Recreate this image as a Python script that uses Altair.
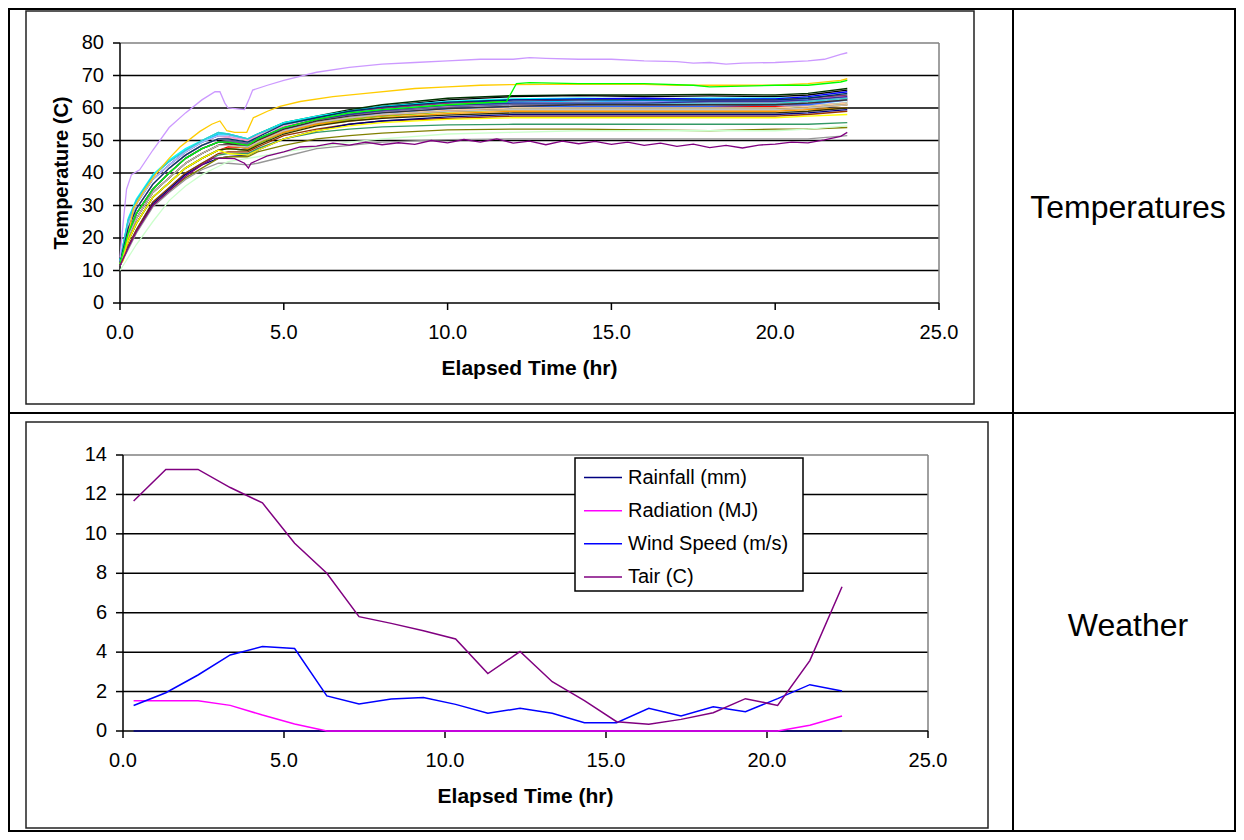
import altair as alt
import pandas as pd

FONT = "Liberation Sans"
W, H = 1228, 824

# ---------------- Temperatures: sensor readings ----------------
GRID_TIME = [0, 0.25, 0.5, 1, 1.5, 2, 2.5, 3, 3.3, 3.9, 4.2, 5, 6, 7, 8, 10, 12, 14, 16, 18, 20, 21, 22.2]

T_A = [12.5, 24, 30.5, 38, 42.5, 46.5, 49.5, 51.5, 51.5, 50, 52, 55.5, 57.5, 59.5, 61, 63, 63.8, 64, 64, 64.2, 64, 64.5, 66]
T_B = [12.5, 23, 29, 36.5, 41.5, 45.5, 48.5, 50.5, 50.5, 49.5, 51, 55, 57, 59, 60.5, 62.5, 63.5, 63.8, 63.5, 63.7, 63.5, 64, 65.5]
T_C = [13, 26, 32, 39.5, 44, 47.5, 50, 52.5, 52, 50.5, 52, 55.5, 57.5, 59, 60.5, 62, 62.8, 63, 62.8, 63, 63, 63.2, 64]
T_D = [12, 20.5, 26, 34, 38.5, 43, 46, 48.5, 48.5, 47.5, 50, 54, 56.5, 58.5, 60, 61.5, 62.5, 62.8, 63, 62.7, 62.8, 63.5, 65]
T_F = [12.5, 24, 30.5, 38, 42.5, 46.5, 49.5, 51.5, 51.5, 50, 51.5, 54.5, 56.5, 58, 59.5, 61, 61.8, 62, 61.8, 62, 62.2, 62.5, 63.5]
T_G = [12, 20.5, 26, 34, 38.5, 43, 46, 48.5, 49, 48.5, 50.5, 54, 56, 57.5, 59, 60.5, 61.2, 61.5, 61.3, 61.5, 61.5, 62, 63]
T_H = [12, 19, 24.5, 32.5, 37, 41.5, 44.5, 47, 48, 48, 49.5, 53, 55.5, 57, 58.5, 59.5, 60.5, 60.5, 60.8, 60.5, 60.5, 61, 62]
T_J = [12, 21.5, 27.5, 35, 40, 44.5, 47.5, 49.5, 50, 49, 50.5, 54.5, 57, 58.5, 60, 61.5, 62, 62.5, 62.5, 62.3, 62.5, 63, 64]
T_K = [12, 19, 24.5, 32.5, 37, 41.5, 44.5, 47, 47.5, 47, 49, 52.5, 55, 56.5, 57.5, 59, 59.8, 60, 60, 59.8, 60, 60.5, 61.5]
T_L = [13, 25.5, 31.5, 39, 43.5, 47, 49.5, 52, 52, 50.5, 52, 55, 57, 58.5, 59.5, 61, 61.8, 62, 62.3, 62, 62, 62.5, 63]
T_M = [12.5, 23, 29, 36.5, 41.5, 45.5, 48.5, 50.5, 50.5, 49.5, 51, 54, 56, 57.5, 58.5, 59.5, 60.3, 60.5, 61, 61, 61, 61, 62]
T_N = [12, 19, 24.5, 32.5, 37, 41.5, 44.5, 47, 47.5, 47, 48.5, 52, 54.5, 56, 57, 58.5, 59.3, 59.5, 59.5, 59.5, 59.5, 60, 61]
T_O = [12.5, 24, 30.5, 38, 42.5, 46.5, 49.5, 51.5, 51.5, 50, 51.5, 54.5, 56.5, 58, 59, 60.5, 61.3, 61.5, 61.5, 61.5, 61.5, 62, 63]
T_P = [12.5, 23, 29, 36.5, 41.5, 45.5, 48.5, 50.5, 51, 50, 51.5, 54.5, 56.5, 58, 59, 60.5, 61.3, 61.8, 61.5, 61.5, 61.7, 62, 63]
T_Q = [12, 20.5, 26, 34, 38.5, 43, 46, 48.5, 48.5, 48, 50, 53, 55.5, 57, 58, 59.3, 60, 60, 60, 60, 60, 60.5, 61.5]
T_R = [12, 21.5, 27.5, 35, 40, 44.5, 47.5, 49.5, 49.5, 48.5, 50.5, 53.5, 55.5, 57, 58.5, 59.8, 60.5, 60.5, 60.5, 60.5, 61, 61, 62.5]
T_S = [13, 25.5, 31.5, 39, 43.5, 47, 50, 52.5, 52, 50.5, 52, 55, 57, 58.5, 59.5, 60.8, 61.3, 61.5, 61.5, 61.5, 61.5, 62, 63]
T_T = [12, 19, 24.5, 32.5, 37, 41.5, 44.5, 47, 47.5, 47, 49, 52.5, 55, 56.5, 57.5, 58.8, 59.5, 59.5, 59.5, 59.5, 59.5, 60, 61]
T_U = [12, 20.5, 26, 34, 38.5, 43, 46, 48.5, 48.5, 47.5, 49.5, 52.5, 55, 56, 57, 58.3, 59, 59, 59, 59, 59, 59.5, 60]
T_V = [12, 21.5, 27.5, 35, 40, 44.5, 47.5, 49.5, 49.5, 48.5, 50, 53, 55.5, 57, 57.8, 59, 59.5, 59.5, 59.5, 59.5, 59.5, 60, 61]
T_W = [12, 21.5, 27.5, 35, 40, 44.5, 47.5, 49.5, 50, 49, 50.5, 54, 56.5, 58, 59, 60.3, 61, 61, 61, 61, 61, 61.5, 62.5]
T_X = [12.5, 23, 29, 36.5, 41.5, 45.5, 48.5, 50.5, 50.5, 49.5, 51, 55, 57, 59, 60.3, 61.8, 62.5, 62.5, 62.5, 62.5, 62.5, 63, 64.5]
T_Y = [11.5, 17.5, 22.5, 31, 35.5, 40, 43, 45.5, 46, 46, 47.5, 50.5, 52.5, 53.5, 54.2, 54.8, 55, 55, 55, 55, 55, 55, 55.5]
T_Z = [12, 19, 24.5, 32.5, 37, 41.5, 44.5, 47, 47.5, 47, 48.5, 52, 54.5, 56, 56.8, 57.8, 58.5, 58.5, 58.5, 58.5, 58.5, 59, 60]
T_AA = [11.5, 17.5, 22.5, 31, 35.5, 40, 43, 46, 46.5, 46.5, 48, 51.5, 53.5, 55, 56, 56.8, 57.5, 57.5, 57.5, 57.5, 57.5, 58, 59]
T_AB = [12, 21.5, 27.5, 35, 40, 44.5, 47.5, 49.5, 49.5, 48.5, 50.5, 54, 56.5, 58, 59.3, 60.8, 61.5, 61.5, 61.5, 62, 62, 62.5, 63.5]
T_AC = [12, 20.5, 26, 34, 38.5, 43, 46, 48.5, 49, 48, 50, 53.5, 56, 57.5, 58.5, 59.8, 60.5, 61, 61, 61, 61, 61.5, 62.5]
T_AD = [11.5, 17, 22, 30.5, 35, 39.5, 42.5, 44.5, 45, 45.5, 47, 50.5, 53, 55, 56, 57.3, 58, 58, 58, 58, 58, 58.5, 59.5]
T_AE = [12, 19, 24.5, 32.5, 37, 41.5, 44.5, 47, 46, 45.5, 47, 50.5, 53, 54.5, 55.5, 56.5, 57, 57, 57, 57, 57, 57.5, 58]
T_AF = [11.5, 17, 22, 30, 34.5, 38.5, 41.5, 44.5, 45, 45, 46.5, 48.5, 50.5, 51.5, 52.3, 53.3, 53.5, 53.5, 53.3, 53, 53.5, 53.5, 54]
T_AG = [11.5, 16.5, 21.5, 29.5, 34, 38, 41, 43, 43, 42.5, 43, 45, 47.5, 48.5, 49.5, 50.3, 50.5, 50.5, 50.5, 50.5, 50.5, 50.5, 51.5]
T_AH = [10, 14, 18, 25, 31.5, 36, 39.5, 42, 43.5, 44.5, 45, 46.5, 48, 49.5, 50.5, 52, 52.5, 53, 53, 53, 53, 53.5, 54.5]
T_AI = [12, 20.5, 26, 34, 38.5, 43, 46, 48.5, 48.5, 48, 49.5, 53, 55.5, 57, 58, 59, 59.5, 59.5, 59.5, 59.5, 59.5, 60, 61]

SENSOR_SERIES = [T_A, T_B, T_C, T_D, T_F, T_G, T_H, T_J, T_K, T_L, T_M, T_N, T_O, T_P, T_Q,
                 T_R, T_S, T_T, T_U, T_V, T_W, T_X, T_Y, T_Z, T_AA, T_AB, T_AC, T_AD, T_AE,
                 T_AF, T_AG, T_AH, T_AI]
SENSOR_COLORS = ["#003300", "#000000", "#00FFFF", "#0000FF", "#FF00FF", "#800000", "#FF0000",
                 "#993366", "#008080", "#00CCFF", "#CCFFFF", "#FFFF99", "#99CCFF", "#FF99CC",
                 "#FFCC99", "#3366FF", "#33CCCC", "#99CC00", "#FF9900", "#FF6600", "#666699",
                 "#003366", "#339966", "#333300", "#993300", "#333399", "#333333", "#000080",
                 "#FFFF00", "#808000", "#969696", "#CCFFCC", "#C0C0C0"]

LAV_TIME = [0, 0.1, 0.2, 0.35, 0.6, 1.0, 1.5, 2.0, 2.5, 2.9, 3.05, 3.2, 3.3, 3.8, 3.95, 4.05, 4.5, 5.0,
            6.0, 7.0, 8.0, 9.0, 10, 11, 12, 12.5, 13, 14, 15, 16, 17, 17.5, 18, 18.5, 19, 20, 21,
            21.5, 22, 22.2]
LAV_TEMP = [14, 25, 35, 39.5, 41, 47, 54, 58.5, 62.5, 65, 65, 61.5, 60, 59.5, 63, 65.5, 67, 68.5,
            71, 72.5, 73.5, 74, 74.5, 75, 75, 75.5, 75.3, 75, 75, 74.5, 74.3, 73.8, 74, 73.5, 73.8,
            74, 74.5, 75, 76.5, 77]

GOLD_TIME = [0, 0.1, 0.41, 0.7, 1.12, 1.5, 1.83, 2.44, 2.8, 3.05, 3.26, 3.5, 3.87, 4.07, 4.5, 4.88,
             5.5, 6.5, 7.5, 9.0, 10, 11, 12, 13, 14, 15, 16, 17, 18, 19, 20, 21, 22, 22.2]
GOLD_TEMP = [12, 13, 29, 34, 40, 44.5, 48, 52.8, 55, 56, 53, 52.5, 52.5, 57, 59, 60.5,
             62, 63.5, 64.5, 66, 66.5, 67, 67.2, 67.3, 67.3, 67.3, 67.3, 67, 67, 67, 67, 67.5,
             68.5, 69]

GREEN_TIME = [0, 0.25, 0.5, 1, 1.5, 2, 2.5, 3, 3.3, 3.9, 4.2, 5, 6, 7, 8, 10, 11.8, 12.1, 12.5, 14,
              16, 17.5, 18, 20, 21, 22, 22.2]
GREEN_TEMP = [12, 21.5, 27.5, 35, 40, 44.5, 47.5, 49.5, 49.5, 48.5, 50.5, 54, 56.5, 58.5, 59.5, 61,
              62, 67.5, 67.8, 67.5, 67.5, 67, 66.5, 67, 67, 68, 68.5]

PURPLE_TIME = [0, 0.25, 0.5, 1, 1.5, 2, 2.5, 2.85, 3.2, 3.5, 3.8, 3.92, 4.0, 4.48, 5, 5.5, 6, 6.5,
               7, 7.5, 8, 8.5, 9, 9.5, 10, 10.5, 11, 11.5, 12, 12.5, 13, 13.5, 14, 14.5, 15, 15.5,
               16, 16.5, 17, 17.5, 18, 18.5, 19, 19.5, 20, 20.5, 21, 21.5, 22, 22.2]
PURPLE_TEMP = [11.5, 17, 22, 30, 34.5, 39, 42.5, 44.6, 44.5, 44.4, 43, 41.5, 43, 45.2, 46.5, 48,
               48.3, 49.2, 48.6, 49.5, 48.7, 49.3, 48.8, 50, 49.3, 50.3, 49.5, 50.5, 49.2, 49.8,
               48.7, 49.8, 49, 49.7, 48.8, 49.5, 48.5, 49.2, 48.2, 48.9, 47.8, 48.5, 47.7, 48.6,
               48.9, 49.5, 49.3, 50.2, 51.3, 52.5]

TEMP_GRID = [10, 20, 30, 40, 50, 60, 70]
TEMP_TICKS = [0, 10, 20, 30, 40, 50, 60, 70, 80]
TIME_TICKS = [0, 5, 10, 15, 20, 25]

# ---------------- Weather ----------------
W_TIME = [0.33, 1.33, 2.33, 3.33, 4.33, 5.33, 6.33, 7.33, 8.33, 9.33, 10.33, 11.33, 12.33, 13.33,
          14.33, 15.33, 16.33, 17.33, 18.33, 19.33, 20.33, 21.33, 22.33]
RAINFALL = [0, 0, 0, 0, 0, 0, 0, 0, 0, 0, 0, 0, 0, 0, 0, 0, 0, 0, 0, 0, 0, 0, 0]
RADIATION = [1.54, 1.54, 1.54, 1.30, 0.81, 0.36, 0.0, 0, 0, 0, 0, 0, 0, 0, 0, 0, 0, 0, 0, 0, 0.0,
             0.29, 0.76]
WIND = [1.29, 1.94, 2.84, 3.86, 4.28, 4.18, 1.78, 1.37, 1.62, 1.70, 1.35, 0.90, 1.15, 0.90, 0.42,
        0.42, 1.15, 0.76, 1.23, 0.98, 1.64, 2.35, 2.03]
TAIR = [11.67, 13.27, 13.27, 12.35, 11.57, 9.52, 8.0, 5.8, 5.46, 5.09, 4.67, 2.91, 4.03, 2.50,
        1.54, 0.47, 0.34, 0.59, 0.93, 1.64, 1.30, 3.57, 7.32]
WEATHER_NAMES = ["Rainfall (mm)", "Radiation (MJ)", "Wind Speed (m/s)", "Tair (C)"]
WEATHER_COLORS = ["#000080", "#FF00FF", "#0000FF", "#800080"]
WEATHER_GRID = [2, 4, 6, 8, 10, 12]
WEATHER_TICKS = [0, 2, 4, 6, 8, 10, 12, 14]

# ---------------- tables ----------------
rows = []
for i, (vals, col) in enumerate(zip(SENSOR_SERIES, SENSOR_COLORS)):
    assert len(vals) == len(GRID_TIME), (i, len(vals))
    for t, v in zip(GRID_TIME, vals):
        rows.append({"series": f"S{i:02d}", "t": t, "v": v, "c": col})
for name, times, vals, col in [("lav", LAV_TIME, LAV_TEMP, "#CC99FF"),
                               ("gold", GOLD_TIME, GOLD_TEMP, "#FFCC00"),
                               ("green", GREEN_TIME, GREEN_TEMP, "#00FF00"),
                               ("purple", PURPLE_TIME, PURPLE_TEMP, "#800080")]:
    assert len(times) == len(vals), (name, len(times), len(vals))
    for t, v in zip(times, vals):
        rows.append({"series": name, "t": t, "v": v, "c": col})
temps = pd.DataFrame(rows)

wrows = []
for name, col, vals in zip(WEATHER_NAMES, WEATHER_COLORS, [RAINFALL, RADIATION, WIND, TAIR]):
    for t, v in zip(W_TIME, vals):
        wrows.append({"series": name, "t": t, "v": v, "c": col})
weather = pd.DataFrame(wrows)
legend_df = pd.DataFrame({"series": WEATHER_NAMES, "c": WEATHER_COLORS})
one = pd.DataFrame({"k": [0]})


# ---------------- one chart panel (plot area + hand-made axes) ----------------
def panel(data, grid_vals, ymax, y_ticks, xr, yr, y_title, line_w):
    xs = alt.Scale(domain=[0, 25], range=xr, nice=False, zero=False)
    ys = alt.Scale(domain=[0, ymax], range=yr, nice=False, zero=False)
    ax_x, ax_y = xr[0], yr[0]  # pixel positions of the axis lines

    def XD(v):
        return alt.XDatum(v, type="quantitative", scale=xs, axis=None)

    def YD(v):
        return alt.YDatum(v, type="quantitative", scale=ys, axis=None)

    grid = alt.Chart(pd.DataFrame({"g": grid_vals})).mark_rule(
        color="black", strokeWidth=1.5).encode(
        y=alt.Y("g:Q", scale=ys, axis=None), x=XD(0), x2=alt.X2Datum(25))
    top_border = alt.Chart(one).mark_rule(color="#808080", strokeWidth=1.5).encode(
        y=YD(ymax), x=XD(0), x2=alt.X2Datum(25))
    right_border = alt.Chart(one).mark_rule(color="#808080", strokeWidth=1.5).encode(
        x=XD(25), y=YD(0), y2=alt.Y2Datum(ymax))
    x_dom = alt.Chart(one).mark_rule(color="black", strokeWidth=1.5).encode(
        y=YD(0), x=XD(0), x2=alt.X2Datum(25))
    y_dom = alt.Chart(one).mark_rule(color="black", strokeWidth=1.5).encode(
        x=XD(0), y=YD(0), y2=alt.Y2Datum(ymax))

    xt_df = pd.DataFrame({"tick": TIME_TICKS})
    yt_df = pd.DataFrame({"tick": y_ticks})
    x_ticks = alt.Chart(xt_df).mark_rule(color="black", strokeWidth=1.5).encode(
        x=alt.X("tick:Q", scale=xs, axis=None), y=alt.value(ax_y), y2=alt.value(ax_y + 7))
    x_labels = alt.Chart(xt_df).mark_text(font=FONT, fontSize=20, align="center",
                                          baseline="middle", color="black").encode(
        x=alt.X("tick:Q", scale=xs, axis=None), y=alt.value(ax_y + 30),
        text=alt.Text("tick:Q", format=".1f"))
    y_ticks_m = alt.Chart(yt_df).mark_rule(color="black", strokeWidth=1.5).encode(
        y=alt.Y("tick:Q", scale=ys, axis=None), x=alt.value(ax_x - 7), x2=alt.value(ax_x))
    y_labels = alt.Chart(yt_df).mark_text(font=FONT, fontSize=20, align="right",
                                          baseline="middle", color="black").encode(
        y=alt.Y("tick:Q", scale=ys, axis=None), x=alt.value(ax_x - 16),
        text=alt.Text("tick:Q", format="d"))
    x_title = alt.Chart(one).mark_text(font=FONT, fontSize=21, fontWeight="bold",
                                       align="center", baseline="middle",
                                       color="black").encode(
        x=alt.value((xr[0] + xr[1]) / 2), y=alt.value(ax_y + 66),
        text=alt.value("Elapsed Time (hr)"))

    lines = alt.Chart(data).mark_line(strokeWidth=line_w).encode(
        x=alt.X("t:Q", scale=xs, axis=None),
        y=alt.Y("v:Q", scale=ys, axis=None),
        detail="series:N",
        color=alt.Color("c:N", scale=None))

    layers = [grid, top_border, right_border, x_dom, y_dom, x_ticks, y_ticks_m,
              x_labels, y_labels, x_title]
    if y_title:
        layers.append(alt.Chart(one).mark_text(font=FONT, fontSize=20, fontWeight="bold",
                                               align="center", baseline="middle", angle=270,
                                               color="black").encode(
            x=alt.value(ax_x - 58), y=alt.value((yr[0] + yr[1]) / 2),
            text=alt.value(y_title)))
    layers.append(lines)
    return alt.layer(*layers)


top = panel(temps, TEMP_GRID, 80, TEMP_TICKS, [112, 931], [295, 35], "Temperature (C)", 1.3)
bottom = panel(weather, WEATHER_GRID, 14, WEATHER_TICKS, [115, 920], [723, 447], None, 1.5)

# legend (drawn with marks)
leg_y = alt.Y("series:N", scale=alt.Scale(type="point", domain=WEATHER_NAMES,
                                           range=[469.5, 569], padding=0), axis=None)
leg_box = alt.Chart(one).mark_rect(fill="white", stroke="black", strokeWidth=1.5).encode(
    x=alt.value(567), x2=alt.value(795), y=alt.value(450), y2=alt.value(583))
leg_lines = alt.Chart(legend_df).mark_rule(strokeWidth=1.5).encode(
    x=alt.value(576), x2=alt.value(614), y=leg_y, color=alt.Color("c:N", scale=None))
leg_text = alt.Chart(legend_df).mark_text(font=FONT, fontSize=20, align="left",
                                          baseline="middle", color="black").encode(
    x=alt.value(620), y=leg_y, text="series:N")
legend = alt.layer(leg_box, leg_lines, leg_text)


# table / frames decoration
def rect(x1, y1, x2, y2, sw, color="black"):
    return alt.Chart(one).mark_rect(fill="transparent", stroke=color, strokeWidth=sw).encode(
        x=alt.value(x1), x2=alt.value(x2), y=alt.value(y1), y2=alt.value(y2))


outer = rect(1, 1, W - 1, H - 1, 2)
vline = alt.Chart(one).mark_rule(color="black", strokeWidth=2).encode(
    x=alt.value(1005), y=alt.value(0), y2=alt.value(H))
hline = alt.Chart(one).mark_rule(color="black", strokeWidth=2).encode(
    y=alt.value(405), x=alt.value(0), x2=alt.value(W))
frame_top = rect(18, 3, 966, 396, 1.5, "#222222")
frame_bottom = rect(18, 414, 980, 820, 1.5, "#222222")

lab1 = alt.Chart(one).mark_text(font=FONT, fontSize=32, align="center", baseline="middle",
                                color="black").encode(
    x=alt.value(1120), y=alt.value(200), text=alt.value("Temperatures"))
lab2 = alt.Chart(one).mark_text(font=FONT, fontSize=32, align="center", baseline="middle",
                                color="black").encode(
    x=alt.value(1120), y=alt.value(618), text=alt.value("Weather"))

chart = alt.layer(outer, vline, hline, frame_top, frame_bottom, top, bottom, legend,
                  lab1, lab2).resolve_scale(
    x="independent", y="independent").properties(
    width=W, height=H, autosize=alt.AutoSizeParams(type="none"), padding=0
).configure_view(stroke=None)

chart.save("out.html", embed_options={"renderer": "svg", "actions": False})
